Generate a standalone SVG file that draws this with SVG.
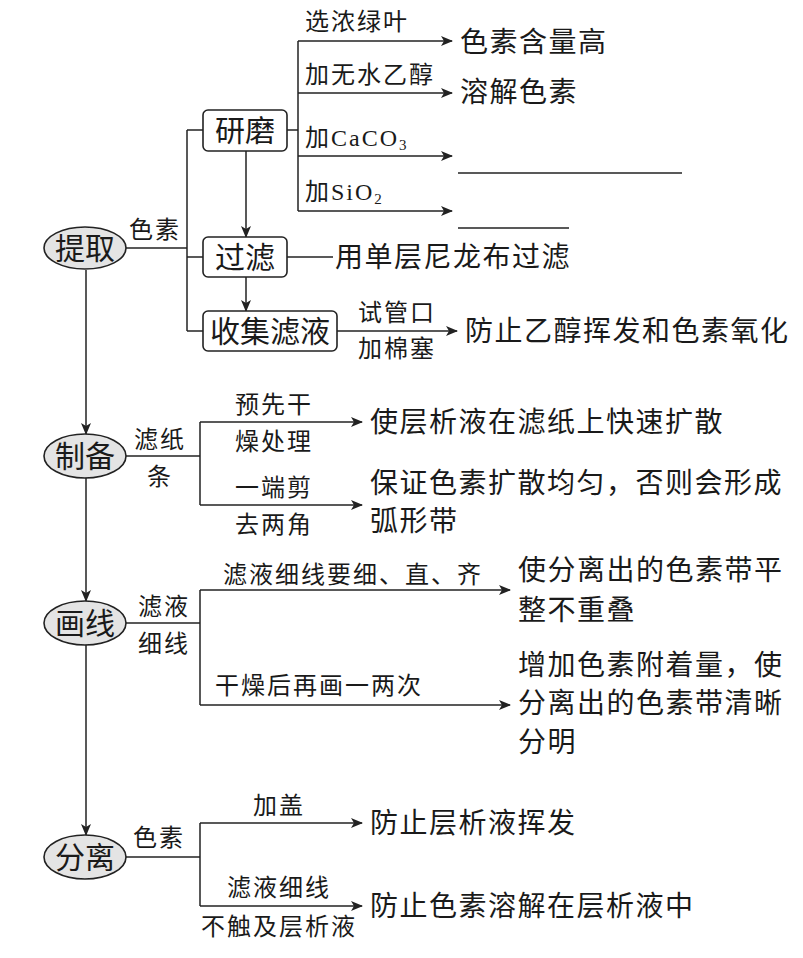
<svg xmlns="http://www.w3.org/2000/svg" width="803" height="958" viewBox="0 0 803 958">
<defs>
<marker id="ah" viewBox="0 0 12 10" refX="11" refY="5" markerWidth="12" markerHeight="10" markerUnits="userSpaceOnUse" orient="auto">
<path d="M0,0 L12,5 L0,10 L3,5 Z" fill="#222"/>
</marker>
<style>
text{font-family:"Liberation Serif","Noto Sans CJK SC",serif;fill:#1a1a1a;dominant-baseline:central}
.node{font-size:30px;text-anchor:middle}
.res{font-size:28px;letter-spacing:1.5px}
.lab{font-size:24px;letter-spacing:2px}
.mid{text-anchor:middle}
.ell{fill:#e4e4e4;stroke:#222;stroke-width:1.6}
.box{fill:#fff;stroke:#222;stroke-width:1.6}
.ln{fill:none;stroke:#222;stroke-width:1.5}
.ar{fill:none;stroke:#222;stroke-width:1.5;marker-end:url(#ah)}
</style>
</defs>
<rect width="803" height="958" fill="#fff"/>

<g id="connectors">
<!-- main vertical -->
<line class="ar" x1="86" y1="270" x2="86" y2="434"/>
<line class="ar" x1="86" y1="478" x2="86" y2="601"/>
<line class="ar" x1="86" y1="645" x2="86" y2="835"/>
<!-- 提取 -->
<line class="ln" x1="126" y1="248" x2="187" y2="248"/>
<line class="ln" x1="187" y1="130" x2="187" y2="331"/>
<line class="ln" x1="187" y1="130" x2="203" y2="130"/>
<line class="ln" x1="187" y1="257" x2="203" y2="257"/>
<line class="ln" x1="187" y1="331" x2="203" y2="331"/>
<line class="ar" x1="246" y1="151" x2="246" y2="237"/>
<line class="ar" x1="246" y1="277" x2="246" y2="311"/>
<line class="ln" x1="287" y1="130" x2="298" y2="130"/>
<line class="ln" x1="298" y1="41" x2="298" y2="211"/>
<line class="ar" x1="298" y1="41" x2="452" y2="41"/>
<line class="ar" x1="298" y1="93" x2="452" y2="93"/>
<line class="ar" x1="298" y1="156" x2="452" y2="156"/>
<line class="ar" x1="298" y1="211" x2="452" y2="211"/>
<line class="ln" x1="458" y1="173" x2="682" y2="173"/>
<line class="ln" x1="458" y1="228" x2="569" y2="228"/>
<line class="ln" x1="287" y1="257" x2="333" y2="257"/>
<line class="ar" x1="337" y1="331" x2="457" y2="331"/>
<!-- 制备 -->
<line class="ln" x1="126" y1="456" x2="200" y2="456"/>
<line class="ln" x1="200" y1="422" x2="200" y2="505"/>
<line class="ar" x1="200" y1="422" x2="362" y2="422"/>
<line class="ar" x1="200" y1="505" x2="362" y2="505"/>
<!-- 画线 -->
<line class="ln" x1="126" y1="623" x2="200" y2="623"/>
<line class="ln" x1="200" y1="590" x2="200" y2="705"/>
<line class="ar" x1="200" y1="590" x2="510" y2="590"/>
<line class="ar" x1="200" y1="705" x2="510" y2="705"/>
<!-- 分离 -->
<line class="ln" x1="126" y1="857" x2="200" y2="857"/>
<line class="ln" x1="200" y1="823" x2="200" y2="906"/>
<line class="ar" x1="200" y1="823" x2="362" y2="823"/>
<line class="ar" x1="200" y1="906" x2="362" y2="906"/>
</g>

<g id="labels">
<text class="lab mid" x="155" y="230">色素</text>
<text class="lab" x="305" y="22">选浓绿叶</text>
<text class="lab" x="305" y="75">加无水乙醇</text>
<text class="lab" x="305" y="138">加CaCO<tspan font-size="15" dy="7">3</tspan></text>
<text class="lab" x="305" y="192">加SiO<tspan font-size="15" dy="7">2</tspan></text>
<text class="lab mid" x="397" y="313">试管口</text>
<text class="lab mid" x="397" y="349">加棉塞</text>
<text class="lab mid" x="160" y="440">滤纸</text>
<text class="lab mid" x="160" y="477">条</text>
<text class="lab mid" x="274" y="405">预先干</text>
<text class="lab mid" x="274" y="442">燥处理</text>
<text class="lab mid" x="274" y="488">一端剪</text>
<text class="lab mid" x="274" y="525">去两角</text>
<text class="lab mid" x="164" y="607">滤液</text>
<text class="lab mid" x="164" y="644">细线</text>
<text class="lab" x="223" y="575">滤液细线要细、直、齐</text>
<text class="lab" x="215" y="686">干燥后再画一两次</text>
<text class="lab mid" x="159" y="838">色素</text>
<text class="lab mid" x="279" y="806">加盖</text>
<text class="lab mid" x="279" y="888">滤液细线</text>
<text class="lab mid" x="279" y="927">不触及层析液</text>
</g>

<g id="results">
<text class="res" x="460" y="42">色素含量高</text>
<text class="res" x="460" y="92">溶解色素</text>
<text class="res" x="335" y="257">用单层尼龙布过滤</text>
<text class="res" x="465" y="331">防止乙醇挥发和色素氧化</text>
<text class="res" x="370" y="422">使层析液在滤纸上快速扩散</text>
<text class="res" x="370" y="483">保证色素扩散均匀，否则会形成</text>
<text class="res" x="370" y="521">弧形带</text>
<text class="res" x="518" y="570">使分离出的色素带平</text>
<text class="res" x="518" y="610">整不重叠</text>
<text class="res" x="518" y="665">增加色素附着量，使</text>
<text class="res" x="518" y="703">分离出的色素带清晰</text>
<text class="res" x="518" y="742">分明</text>
<text class="res" x="370" y="823">防止层析液挥发</text>
<text class="res" x="370" y="906">防止色素溶解在层析液中</text>
</g>

<g id="node-tiqu">
<ellipse class="ell" cx="85" cy="248" rx="41" ry="21"/>
<text class="node" x="85" y="248">提取</text>
</g>
<g id="node-yanmo">
<rect class="box" x="203" y="110" width="84" height="41" rx="5"/>
<text class="node" x="245" y="130">研磨</text>
</g>
<g id="node-guolv">
<rect class="box" x="203" y="237" width="84" height="40" rx="5"/>
<text class="node" x="245" y="257">过滤</text>
</g>
<g id="node-shouji">
<rect class="box" x="203" y="311" width="134" height="40" rx="5"/>
<text class="node" x="270" y="331">收集滤液</text>
</g>
<g id="node-zhibei">
<ellipse class="ell" cx="85" cy="456" rx="41" ry="22"/>
<text class="node" x="85" y="456">制备</text>
</g>
<g id="node-huaxian">
<ellipse class="ell" cx="85" cy="623" rx="41" ry="22"/>
<text class="node" x="85" y="623">画线</text>
</g>
<g id="node-fenli">
<ellipse class="ell" cx="85" cy="857" rx="41" ry="22"/>
<text class="node" x="85" y="857">分离</text>
</g>
</svg>
